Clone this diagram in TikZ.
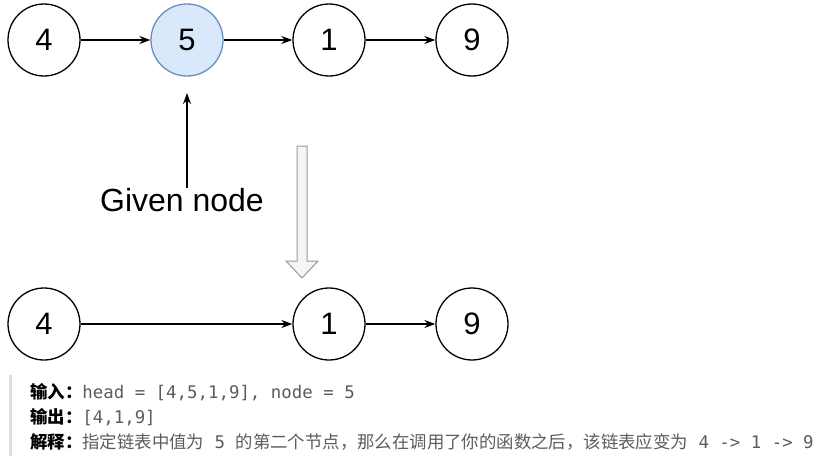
\documentclass[tikz,border=0pt]{standalone}
\usepackage{fontspec}
\setmainfont{Liberation Sans}
\setmonofont{DejaVu Sans Mono}
\newfontfamily\cjk{Noto Sans CJK SC}
\usetikzlibrary{arrows.meta}
\definecolor{nodeblue}{HTML}{DAE8FC}
\definecolor{edgeblue}{HTML}{6C8EBF}
\definecolor{txtgray}{HTML}{5C5C5C}
\definecolor{bargray}{HTML}{DDDDDD}

\begin{document}
\begin{tikzpicture}[x=1pt, y=-1pt, >={Stealth[length=11pt,width=8pt]},
  listnode/.style={circle, draw, line width=1.3pt, fill=white, minimum size=72pt,
    inner sep=0pt, font=\fontsize{31}{31}\selectfont},
  link/.style={->, line width=1.3pt},
  note/.style={anchor=west, inner sep=0pt, font=\fontsize{17.4}{20}\selectfont}]
  \useasboundingbox (0,0) rectangle (825,463);
  % before
  \node[listnode] (a4) at (44,40) {4};
  \node[listnode, fill=nodeblue, draw=edgeblue] (a5) at (187,40) {5};
  \node[listnode] (a1) at (329,40) {1};
  \node[listnode] (a9) at (472,40) {9};
  \draw[link] (a4) -- (a5);
  \draw[link] (a5) -- (a1);
  \draw[link] (a1) -- (a9);
  % given node
  \node[font=\fontsize{32}{32}\selectfont, inner sep=0pt] (given) at (182,200) {Given node};
  \coordinate (gtip) at (187,93);
  \draw[link] (given.north -| gtip) -- (gtip);
  % hollow arrow
  \draw[line width=1pt, draw=black!40, fill=black!4]
    (297,146) -- (307,146) -- (307,261) -- (318,261) -- (302,278)
    -- (286,261) -- (297,261) -- cycle;
  % after
  \node[listnode] (b4) at (44,324) {4};
  \node[listnode] (b1) at (329,324) {1};
  \node[listnode] (b9) at (472,324) {9};
  \draw[link] (b4) -- (b1);
  \draw[link] (b1) -- (b9);
  % example text
  \fill[bargray] (9,375) rectangle (12,456);
  \node[note] (in) at (30,392) {{\cjk\bfseries 输入：}\textcolor{txtgray}{\ttfamily head = [4,5,1,9], node = 5}};
  \node[note] (out) at (30,417) {{\cjk\bfseries 输出：}\textcolor{txtgray}{\ttfamily [4,1,9]}};
  \node[note] (why) at (30,442) {{\cjk\bfseries 解释：}\textcolor{txtgray}{\cjk 指定链表中值为{\ttfamily\ 5\ }的第二个节点，那么在调用了你的函数之后，该链表应变为{\ttfamily\ 4 -> 1 -> 9}}};
\end{tikzpicture}
\end{document}
